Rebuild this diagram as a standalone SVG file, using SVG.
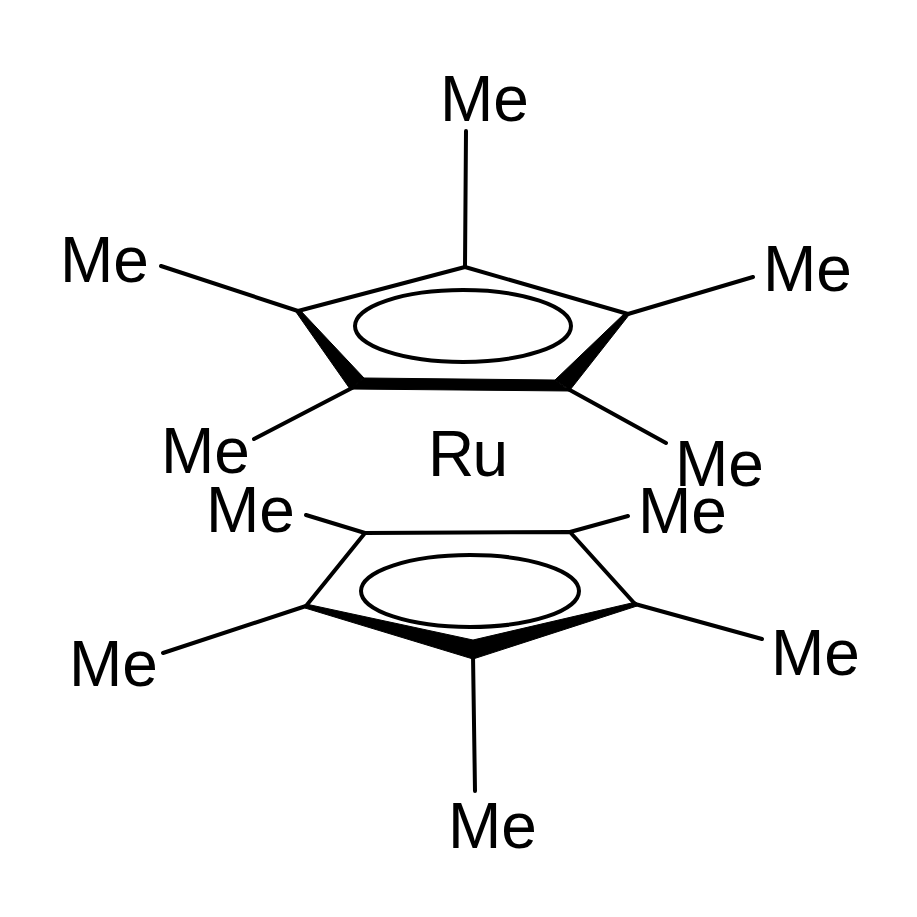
<svg xmlns="http://www.w3.org/2000/svg" width="917" height="917" viewBox="0 0 917 917">
<style>
text{font-family:"Liberation Sans",Arial,sans-serif;font-size:64px;fill:#000}
.b{stroke:#000;stroke-width:4;fill:none;stroke-linecap:round;stroke-linejoin:round}
.w{fill:#000;stroke:#000;stroke-width:1;stroke-linejoin:round}
</style>
<rect width="917" height="917" fill="#fff"/>
<g id="connectors">
<path class="b" d="M466 131L465 267M298 311L161 266M628 314L753 277M352 388L254 439M568 389L666 443M365 533L306 515M570 532L628 516M306 606L163 653M635 604L762 639M473 655L475 791"/>
<path class="b" d="M298 311L465 267L628 314"/>
<path class="w" d="M300 310L364 378L350 389L296 312ZM626 312L555 380L570 390L629 315Z"/>
<path class="w" d="M364 378L555 380L570 391L350 389Z"/>
<path class="b" d="M306 606L365 533L570 532L635 604"/>
<path class="w" d="M306 604L473 640L473 659L305 608ZM636 602L473 640L473 659L637 606Z"/>
<ellipse class="b" cx="463" cy="326" rx="108" ry="36"/>
<ellipse class="b" cx="470" cy="591" rx="109" ry="36"/>
</g>
<g id="me1"><text x="440" y="121">Me</text></g>
<g id="me2"><text x="60" y="282">Me</text></g>
<g id="me3"><text x="763" y="291">Me</text></g>
<g id="me4"><text x="161" y="473">Me</text></g>
<g id="me5"><text x="675" y="486">Me</text></g>
<g id="ru"><text x="428" y="476" textLength="80">Ru</text></g>
<g id="me6"><text x="206" y="532">Me</text></g>
<g id="me7"><text x="638" y="533">Me</text></g>
<g id="me8"><text x="69" y="686">Me</text></g>
<g id="me9"><text x="771" y="675">Me</text></g>
<g id="me10"><text x="448" y="848">Me</text></g>
</svg>
